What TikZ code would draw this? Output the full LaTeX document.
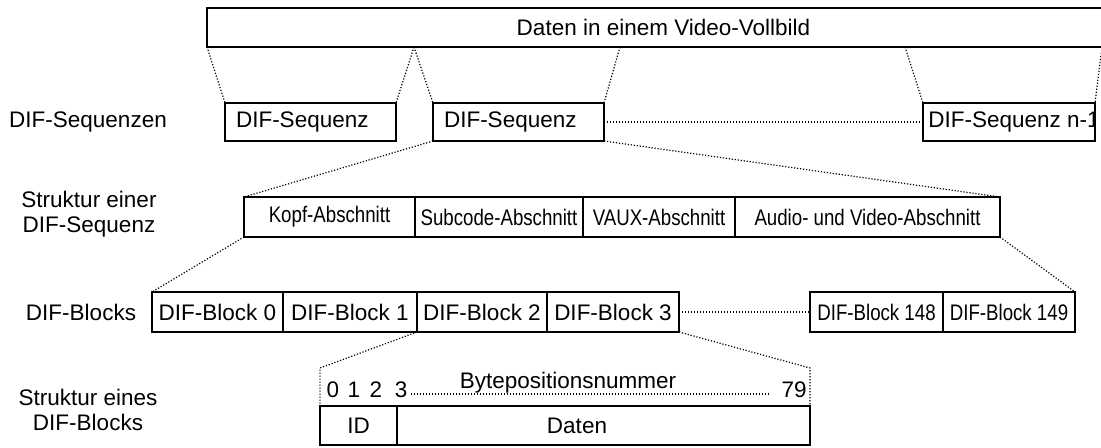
\documentclass[tikz,border=0pt]{standalone}
\usepackage{fontspec}
\setmainfont{Liberation Sans}
\usepackage{graphicx}
\usetikzlibrary{calc}
\newcommand{\mainsize}{\fontsize{11.25pt}{12.5pt}\selectfont}
\newcommand{\narrowtext}[1]{\scalebox{0.83}[1]{\mainsize #1}}

\begin{document}
\begin{tikzpicture}[x=0.5pt,y=-0.5pt,
  box/.style={draw, line width=1.1pt, inner sep=0pt, outer sep=0pt,
    anchor=north west, font=\mainsize},
  seqbox/.style={box, minimum height=19pt, inner xsep=5.5pt,
    text width=74.5pt, align=left},
  secbox/.style={box, minimum height=20pt},
  blkbox/.style={box, minimum height=20pt},
  bytebox/.style={box, minimum height=19.5pt},
  dots/.style={line width=0.6pt, dash pattern=on 0.6pt off 0.9pt},
  lab/.style={font=\mainsize, align=center, inner sep=0pt},
  num/.style={font=\mainsize, inner sep=0pt, anchor=base}]

\useasboundingbox (0,0) rectangle (1101,448);
\clip (0,0) rectangle (1101,448);

% row labels
\node[lab] (l1) at (88,122) {DIF-Sequenzen};
\node[lab] (l2) at (89,214) {Struktur einer\\DIF-Sequenz};
\node[lab] (l3) at (81,312) {DIF-Blocks};
\node[lab] (l4) at (88,410) {Struktur eines\\DIF-Blocks};

% video frame
\node[box, minimum width=456.5pt, minimum height=19.5pt] (T) at (207,8)
  {Daten in einem Video-Vollbild};

% DIF sequences
\node[seqbox] (s1) at (225,103) {DIF-Sequenz};
\node[seqbox] (s2) at (433,103) {DIF-Sequenz};
\node[box, minimum width=86pt, minimum height=19pt] (s3) at (923,103) {};
\begin{scope}
  \clip (s3.south west) rectangle (s3.north east);
  \node[anchor=west, inner sep=0pt, font=\mainsize] (s3t) at ($(s3.west)+(5,0)$)
    {DIF-Sequenz n-1};
\end{scope}

% sections of one DIF sequence
\node[secbox, minimum width=85.5pt] (k)  at (244,197) {\narrowtext{Kopf-Abschnitt}};
\node[secbox, minimum width=84pt]   (sc) at (415,197) {\narrowtext{Subcode-Abschnitt}};
\node[secbox, minimum width=76pt]   (vx) at (583,197) {\narrowtext{VAUX-Abschnitt}};
\node[secbox, minimum width=132.5pt] (av) at (735,197) {\narrowtext{Audio- und Video-Abschnitt}};

% DIF blocks
\node[blkbox, minimum width=65.5pt] (b0) at (152,292) {DIF-Block 0};
\node[blkbox, minimum width=67pt]   (b1) at (283,292) {DIF-Block 1};
\node[blkbox, minimum width=65pt]   (b2) at (417,292) {DIF-Block 2};
\node[blkbox, minimum width=66pt]   (b3) at (547,292) {DIF-Block 3};
\node[blkbox, minimum width=66.5pt] (b148) at (810,292) {\narrowtext{DIF-Block 148}};
\node[blkbox, minimum width=66pt]   (b149) at (943,292) {\narrowtext{DIF-Block 149}};

% structure of one DIF block
\node[bytebox, minimum width=38.5pt] (id)  at (320,406) {ID};
\node[bytebox, minimum width=206.5pt] (dat) at (397,406) {};
\node[lab] (datt) at (577,425.5) {Daten};
\node[num] (n0) at (333,397) {0};
\node[num] (n1) at (354,397) {1};
\node[num] (n2) at (376,397) {2};
\node[num] (n3) at (401,397) {3};
\node[num] (n79) at (794,397) {79};
\node[num] (bp) at (568,388) {Bytepositionsnummer};

% fan-out from the video frame
\coordinate (tA) at ($(T.south west)+(207,0)$);
\coordinate (tB) at ($(T.south west)+(413,0)$);
\coordinate (tC) at ($(T.south west)+(698,0)$);
\coordinate (tD) at ($(T.south west)+(895,0)$);
\draw[dots] (T.south west) -- (s1.north west);
\draw[dots] (tA) -- (s1.north east);
\draw[dots] (tA) -- (s2.north west);
\draw[dots] (tB) -- (s2.north east);
\draw[dots] (tC) -- (s3.north west);
\draw[dots] (tD) -- (s3.north east);
\draw[dots] (s2.east) -- (s3.west);

% fan-out from one sequence to its sections
\draw[dots] (s2.south west) -- (k.north west);
\draw[dots] (s2.south east) -- (av.north east);

% fan-out from the sections to the blocks
\draw[dots] (k.south west) -- (b0.north west);
\draw[dots] (av.south east) -- (b149.north east);
\draw[dots] (b3.east) -- (b148.west);

% fan-out from one block to its bytes
\coordinate (gL) at ($(id.north west)+(0,-38)$);
\coordinate (gR) at ($(dat.north east)+(0,-38)$);
\draw[dots] (b1.south east) -- (gL) -- (id.north west);
\draw[dots] (b3.south east) -- (gR) -- (dat.north east);
\draw[dots] ($(n3.base east)+(3,-3)$) -- ($(n79.base west)+(-12,-3)$);
\end{tikzpicture}
\end{document}
